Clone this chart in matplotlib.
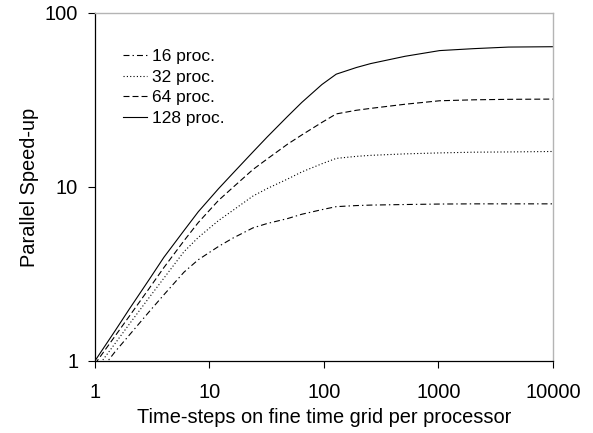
import matplotlib
matplotlib.use('Agg')
import matplotlib.pyplot as plt

# time-steps per processor and parallel speed-up
x_steps = [1, 1.5, 2, 3, 4, 6, 8, 12, 16, 24, 32, 48, 64, 96, 128, 192, 256,
           512, 1024, 2048, 4096, 10000]
s16 = [0.80, 1.13, 1.41, 1.93, 2.40, 3.24, 3.82, 4.55, 5.08, 5.82, 6.17, 6.58,
       6.97, 7.41, 7.71, 7.82, 7.87, 7.93, 7.98, 8.0, 8.0, 8.0]
s32 = [0.88, 1.26, 1.63, 2.33, 2.99, 4.25, 5.13, 6.41, 7.33, 8.87, 9.8, 11.1,
       12.2, 13.6, 14.6, 15.0, 15.2, 15.5, 15.7, 15.85, 15.9, 16.0]
s64 = [0.96, 1.39, 1.81, 2.63, 3.44, 4.91, 6.25, 8.37, 9.93, 12.6, 14.5, 17.6,
       19.9, 23.5, 26.3, 27.6, 28.3, 29.9, 31.3, 31.7, 31.9, 32.0]
s128 = [1.0, 1.49, 1.99, 2.96, 3.94, 5.62, 7.21, 9.77, 11.97, 15.9, 19.4, 25.4,
        30.6, 38.8, 44.5, 48.6, 51.2, 56.4, 60.8, 62.4, 63.7, 64.0]
labels = ['16 proc.', '32 proc.', '64 proc.', '128 proc.']

plt.rcParams['font.family'] = ['Liberation Sans', 'DejaVu Sans']
plt.rcParams['lines.scale_dashes'] = False

fig = plt.figure(figsize=(5.93, 4.33), dpi=100)
ax = fig.add_axes([0.160, 0.1663, 0.7725, 0.8037])

styles = [(0, (4.3, 2.2, 1.0, 2.2)), (0, (0.8, 1.6)), (0, (4.3, 2.2)), '-']
for ys, lab, ls in zip([s16, s32, s64, s128], labels, styles):
    ax.plot(x_steps, ys, color='black', lw=0.8, ls=ls, label=lab)

ax.set_xscale('log')
ax.set_yscale('log')
ax.set_xlim(1, 10000)
ax.set_ylim(1, 100)
ax.set_xticks([1, 10, 100, 1000, 10000])
ax.set_xticklabels(['1', '10', '100', '1000', '10000'])
ax.set_yticks([1, 10, 100])
ax.set_yticklabels(['1', '10', '100'])
ax.minorticks_off()

ax.tick_params(axis='x', direction='out', length=5, width=0.8, pad=11, labelsize=14.4)
ax.tick_params(axis='y', direction='out', length=5, width=0.8, pad=7, labelsize=14.4)

for side in ['top', 'right']:
    ax.spines[side].set_color('#b4b4b4')
    ax.spines[side].set_linewidth(1.0)
for side in ['left', 'bottom']:
    ax.spines[side].set_color('black')
    ax.spines[side].set_linewidth(0.9)

ax.set_xlabel('Time-steps on fine time grid per processor', fontsize=14.4, labelpad=4)
ax.set_ylabel('Parallel Speed-up', fontsize=14.4, labelpad=4)

ax.legend(loc='upper left', bbox_to_anchor=(0.061, 0.897), frameon=False,
          fontsize=12.5, handlelength=1.4, handletextpad=0.3,
          labelspacing=0.32, borderpad=0, borderaxespad=0)

fig.savefig('out.png', dpi=100)
